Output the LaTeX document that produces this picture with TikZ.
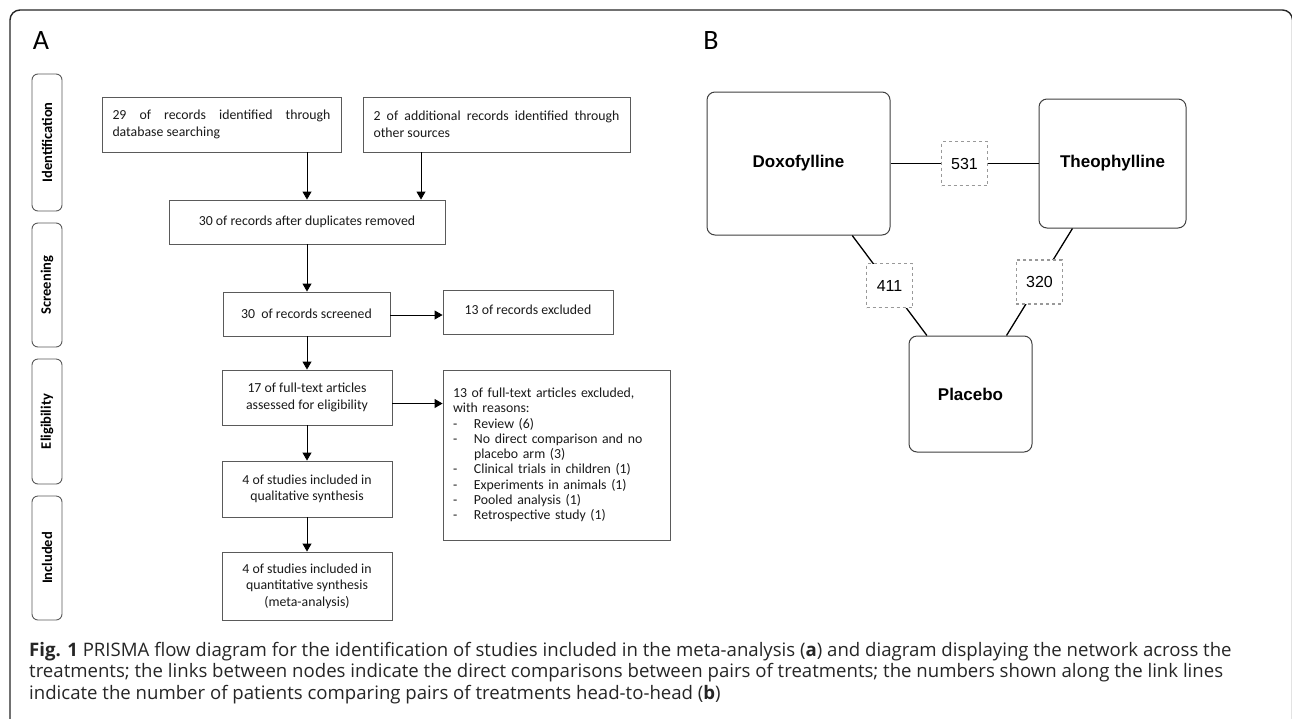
\documentclass[tikz,border=0pt]{standalone}
\usepackage{fontspec}
\setmainfont{Carlito}
\newfontfamily\arialf{Liberation Sans}
\newfontfamily\capf{Open Sans}
\usetikzlibrary{arrows.meta,calc}
\definecolor{boxgray}{HTML}{5A5A5A}
\definecolor{txt}{HTML}{1A1A1A}
\newcommand\prismasize{\fontsize{13.8}{16.6}\selectfont}
\begin{document}
\begin{tikzpicture}[x=1pt,y=-1pt,
  pbox/.style={draw=boxgray, line width=0.9pt, fill=white, font=\prismasize, align=center, inner sep=0pt, text=txt},
  stage/.style={draw=boxgray, rounded corners=6pt, line width=0.9pt, rotate=90, font=\bfseries\fontsize{14.5}{16}\selectfont, minimum height=30pt, inner sep=0pt, text=black},
  arr/.style={-{Triangle[length=8pt,width=9pt]}, line width=0.9pt, black},
  net/.style={draw=black!75, rounded corners=8pt, line width=1pt, font=\arialf\bfseries\fontsize{17}{20}\selectfont, inner sep=0pt},
  nlbl/.style={draw=black!40, dashed, fill=white, font=\arialf\fontsize{16}{18}\selectfont, minimum width=46pt, minimum height=44pt, inner sep=0pt},
  link/.style={line width=1.3pt, black},
  panel/.style={font=\fontsize{28}{30}\selectfont, inner sep=0pt}
]
\useasboundingbox (0,0) rectangle (1292,718);
\clip (0,0) rectangle (1292,718);
\fill[white] (0,0) rectangle (1292,718);
% frame
\draw[line width=1.4pt, rounded corners=10pt, black!85] (10,730) -- (10,10) -- (1292.5,10) -- (1292.5,730);

% panel labels
\node[panel] (A) at (41,41) {A};
\node[panel] (B) at (711,41) {B};

% stage labels
\node[stage, minimum width=137pt] (sid) at (47,142.5) {Identification};
\node[stage, minimum width=124pt] (ssc) at (47,285) {Screening};
\node[stage, minimum width=125pt] (sel) at (47,421.5) {Eligibility};
\node[stage, minimum width=124pt] (sin) at (47,558) {Included};

% PRISMA boxes
\node[pbox, minimum height=55pt, text width=218pt, inner xsep=10.5pt, align=justify] (b1) at (221.5,124.5)
  {29 of records identified through\linebreak database searching};
\node[pbox, minimum height=55pt, text width=246pt, inner xsep=10.5pt, align=justify] (b2) at (496.5,124.5)
  {2 of additional records identified through\linebreak other sources};
\node[pbox, minimum width=276pt, minimum height=44pt] (b3) at (307,222) {30 of records after duplicates removed};
\node[pbox, minimum width=167pt, minimum height=44pt] (b4) at (306.5,314) {30\ \ of records screened};
\node[pbox, minimum width=170pt, minimum height=44pt] (b5) at (528,312) {\raisebox{4pt}{13 of records excluded}};
\node[pbox, minimum width=170pt, minimum height=55pt] (b6) at (307,397.5) {17 of full-text articles\\assessed for eligibility};
\node[pbox, minimum width=170pt, minimum height=56pt] (b7) at (307,489) {4 of studies included in\\qualitative synthesis};
\node[pbox, minimum width=170pt, minimum height=68pt] (b8) at (307,586) {4 of studies included in\\quantitative synthesis\\(meta-analysis)};
\node[pbox, minimum height=170pt, text width=207pt, inner xsep=10pt, align=left, font=\fontsize{13.8}{15.3}\selectfont] (b9) at (556.5,455)
  {13 of full-text articles excluded,\\
   with reasons:\\
   \makebox[21pt][l]{-}Review (6)\\
   \makebox[21pt][l]{-}No direct comparison and no\\
   \hspace*{21pt}placebo arm (3)\\
   \makebox[21pt][l]{-}Clinical trials in children (1)\\
   \makebox[21pt][l]{-}Experiments in animals (1)\\
   \makebox[21pt][l]{-}Pooled analysis (1)\\
   \makebox[21pt][l]{-}Retrospective study (1)};

\coordinate (x421) at (421,0);
% arrows
\draw[arr] (b3.north |- b1.south) -- (b3.north);
\draw[arr] (b2.south -| x421) -- (b3.north -| x421);
\draw[arr] (b3.south) -- (b3.south |- b4.north);
\draw[arr] ([yshift=-1pt]b4.east) -- ([yshift=-1pt]b4.east -| b5.west);
\draw[arr] (b4.south -| b3.south) -- (b3.south |- b6.north);
\draw[arr] ([yshift=-6pt]b6.east) -- ([yshift=-6pt]b6.east -| b9.west);
\draw[arr] (b6.south) -- (b7.north);
\draw[arr] (b7.south) -- (b8.north);

% network
\node[net, minimum width=183pt, minimum height=143pt] (dox) at (798.5,163.5) {Doxofylline};
\node[net, minimum width=147pt, minimum height=129pt] (theo) at (1112.5,163.5) {Theophylline};
\node[net, minimum width=123pt, minimum height=116pt] (plac) at (970.5,394) {Placebo};
\draw[link] (dox) -- node[nlbl, pos=0.5]{531} (theo);
\draw[link] (dox) -- node[nlbl, pos=0.5]{411} (plac);
\draw[link] (theo) -- node[nlbl, pos=0.5]{320} (plac);

% caption
\node[anchor=base west, align=left, inner sep=0pt, font=\capf\fontsize{18.6}{21.5}\selectfont, text=black!85] (cap) at (29,699)
  {\textbf{Fig. 1} PRISMA flow diagram for the identification of studies included in the meta-analysis (\textbf{a}) and diagram displaying the network across the\\
   treatments; the links between nodes indicate the direct comparisons between pairs of treatments; the numbers shown along the link lines\\
   indicate the number of patients comparing pairs of treatments head-to-head (\textbf{b})};
\end{tikzpicture}
\end{document}
